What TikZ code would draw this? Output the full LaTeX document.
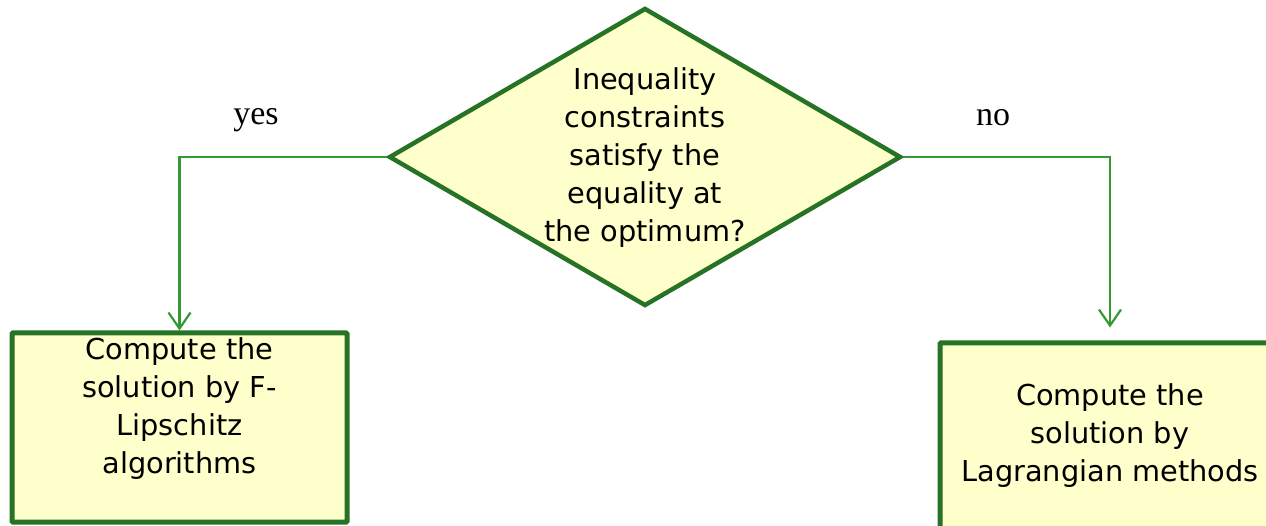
\documentclass[tikz,border=0pt]{standalone}
\usepackage{fontspec}
\setmainfont{DejaVu Sans}
\newfontfamily\serifyn{Liberation Serif}
\usetikzlibrary{shapes.geometric,arrows.meta}
\definecolor{boxgreen}{RGB}{38,115,38}
\definecolor{linegreen}{RGB}{51,153,51}
\definecolor{boxfill}{RGB}{255,255,204}
\begin{document}
\begin{tikzpicture}[x=1pt,y=-1pt,
  decision/.style={diamond, draw=boxgreen, line width=4.5pt, fill=boxfill, minimum width=512pt, minimum height=298pt, inner sep=0pt},
  procbox/.style={rectangle, draw=boxgreen, line width=5pt, fill=boxfill, inner sep=0pt, rounded corners=1pt},
  txt/.style={align=center, font=\fontsize{28.8}{38}\selectfont, inner sep=0pt},
  lbl/.style={font=\serifyn\fontsize{34}{40}\selectfont, inner sep=0pt},
  conn/.style={draw=linegreen, line width=2.2pt, -{Straight Barb[length=16pt,width=22pt,line width=2.2pt]}}]
\useasboundingbox (0,0) rectangle (1266,526);
\clip (0,0) rectangle (1266,526);
\node[decision] (dec) at (645,157) {};
\node[txt] (dectext) at (645,158) {Inequality\\constraints\\satisfy the\\equality at\\the optimum?};
\node[procbox, minimum width=335pt, minimum height=189pt] (lbox) at (179.5,427.5) {};
\node[txt] (ltext) at (179.5,409) {Compute the\\solution by F-\\Lipschitz\\algorithms};
\node[procbox, minimum width=340pt, minimum height=200pt] (rbox) at (1110,443) {};
\node[txt] (rtext) at (1110,436) {Compute the\\solution by\\Lagrangian methods};
\node[lbl] (yes) at (256,120) {yes};
\node[lbl] (no) at (993,118) {no};
\draw[conn] (dec.west) -| (lbox.north);
\draw[conn, shorten >=13pt] (dec.east) -| (rbox.north);
\end{tikzpicture}
\end{document}
